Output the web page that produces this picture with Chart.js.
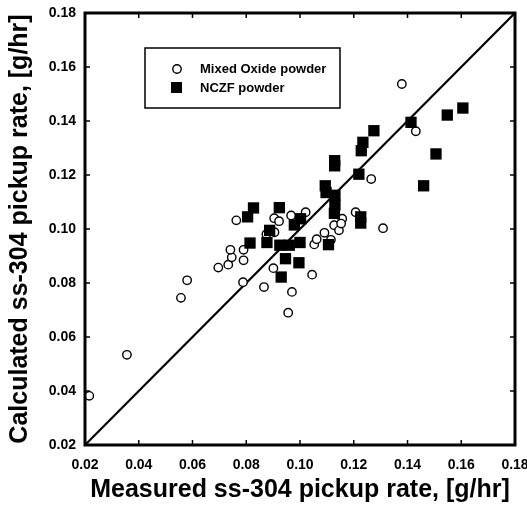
<!DOCTYPE html>
<html>
<head>
<meta charset="utf-8">
<script src="https://cdn.jsdelivr.net/npm/chart.js@4.4.1/dist/chart.umd.min.js"></script>
<style>
  html, body { margin: 0; padding: 0; background: #fff; }
  #wrap { width: 527px; height: 505px; }
</style>
</head>
<body>
<div id="wrap"><canvas id="graphPickup" width="527" height="505"></canvas></div>
<script>
// axis ticks (same on both axes)
const tickValues = [0.02, 0.04, 0.06, 0.08, 0.10, 0.12, 0.14, 0.16, 0.18];

// Mixed Oxide powder (open circles)
const mixedX = [0.0216, 0.0356, 0.0557, 0.0580, 0.0696, 0.0733, 0.0746, 0.0741, 0.0763, 0.0790,
                0.0790, 0.0788, 0.0866, 0.0901, 0.0875, 0.0904, 0.0922, 0.0905, 0.0970, 0.0956,
                0.0967, 0.1021, 0.1045, 0.1053, 0.1062, 0.1091, 0.1115, 0.1127, 0.1145, 0.1157,
                0.1153, 0.1207, 0.1265, 0.1309, 0.1379, 0.1431];
const mixedY = [0.0382, 0.0534, 0.0745, 0.0810, 0.0857, 0.0868, 0.0895, 0.0923, 0.1032, 0.0923,
                0.0884, 0.0803, 0.0785, 0.0855, 0.0981, 0.1040, 0.1029, 0.0988, 0.0767, 0.0690,
                0.1050, 0.1062, 0.0831, 0.0943, 0.0962, 0.0986, 0.0960, 0.1014, 0.0995, 0.1038,
                0.1020, 0.1062, 0.1185, 0.1003, 0.1537, 0.1362];

// NCZF powder (filled squares)
const nczfX = [0.0805, 0.0827, 0.0814, 0.0887, 0.0877, 0.0923, 0.0925, 0.0930, 0.0946, 0.0960,
               0.0979, 0.1002, 0.0996, 0.1000, 0.1094, 0.1097, 0.1129, 0.1129, 0.1130, 0.1130,
               0.1128, 0.1106, 0.1219, 0.1226, 0.1226, 0.1228, 0.1234, 0.1275, 0.1413, 0.1460,
               0.1506, 0.1548, 0.1606];
const nczfY = [0.1045, 0.1078, 0.0948, 0.0995, 0.0950, 0.1079, 0.0940, 0.0822, 0.0890, 0.0940,
               0.1015, 0.1038, 0.0875, 0.0950, 0.1160, 0.1135, 0.1253, 0.1234, 0.1125, 0.1089,
               0.1058, 0.0942, 0.1203, 0.1045, 0.1022, 0.1290, 0.1321, 0.1364, 0.1395, 0.1160,
               0.1278, 0.1422, 0.1448];

// 1:1 line
const lineX = [0.02, 0.18];
const lineY = [0.02, 0.18];

const toPoints = (xs, ys) => xs.map((x, i) => ({ x: x, y: ys[i] }));
const FONT = '"Liberation Sans", Arial, sans-serif';

// kotak plot, tick ke dalam, dan legend
const framePlugin = {
  id: 'frame',
  afterDatasetsDraw(chart) {
    const { ctx, chartArea: a, scales } = chart;
    ctx.save();
    ctx.strokeStyle = '#000';
    ctx.lineWidth = 1.5;
    ctx.beginPath();
    tickValues.forEach(v => {
      const px = scales.x.getPixelForValue(v);
      const py = scales.y.getPixelForValue(v);
      ctx.moveTo(px, a.bottom); ctx.lineTo(px, a.bottom - 5);
      ctx.moveTo(px, a.top); ctx.lineTo(px, a.top + 5);
      ctx.moveTo(a.left, py); ctx.lineTo(a.left + 5, py);
      ctx.moveTo(a.right, py); ctx.lineTo(a.right - 5, py);
    });
    ctx.stroke();
    ctx.lineWidth = 3;
    ctx.strokeRect(a.left, a.top, a.right - a.left, a.bottom - a.top);

    // legend box
    const lx = 145, ly = 48, lw = 195, lh = 60;
    ctx.fillStyle = '#fff';
    ctx.fillRect(lx, ly, lw, lh);
    ctx.lineWidth = 1.5;
    ctx.strokeRect(lx, ly, lw, lh);
    ctx.beginPath();
    ctx.arc(177, 69, 4.2, 0, Math.PI * 2);
    ctx.fillStyle = '#fff';
    ctx.fill();
    ctx.lineWidth = 1.4;
    ctx.stroke();
    ctx.fillStyle = '#000';
    ctx.fillRect(171, 82, 11, 11);
    ctx.font = 'bold 13px ' + FONT;
    ctx.textBaseline = 'middle';
    ctx.fillText('Mixed Oxide powder', 200, 69);
    ctx.fillText('NCZF powder', 200, 88);
    ctx.restore();
  }
};

const ctxPickup = document.getElementById('graphPickup');
const chartPickup = new Chart(ctxPickup, {
  type: 'scatter',
  data: {
    datasets: [
      {
        label: 'NCZF powder',
        data: toPoints(nczfX, nczfY),
        pointStyle: 'rect',
        pointRadius: 8,
        backgroundColor: '#000',
        borderColor: '#000',
        borderWidth: 0,
        order: 0
      },
      {
        label: 'Mixed Oxide powder',
        data: toPoints(mixedX, mixedY),
        pointStyle: 'circle',
        pointRadius: 4.2,
        backgroundColor: '#fff',
        borderColor: '#000',
        borderWidth: 1.4,
        order: 1
      },
      {
        type: 'line',
        label: '1:1',
        data: toPoints(lineX, lineY),
        borderColor: '#000',
        borderWidth: 2.2,
        pointRadius: 0,
        fill: false,
        order: 2
      }
    ]
  },
  plugins: [framePlugin],
  options: {
    responsive: false,
    animation: false,
    layout: { padding: { top: 13, right: 12, left: 0, bottom: 0 } },
    plugins: {
      legend: { display: false },
      tooltip: { enabled: false }
    },
    scales: {
      x: {
        type: 'linear',
        min: 0.02,
        max: 0.18,
        afterBuildTicks: s => { s.ticks = tickValues.map(v => ({ value: v })); },
        afterFit: s => { s.height = 60; s.paddingLeft = 0; s.paddingRight = 0; },
        grid: { display: false, drawTicks: false },
        border: { display: false },
        ticks: {
          color: '#000',
          padding: 12,
          maxRotation: 0,
          font: { family: FONT, size: 14, weight: 'bold' },
          callback: v => v.toFixed(2)
        },
        title: {
          display: true,
          text: 'Measured ss-304 pickup rate, [g/hr]',
          color: '#000',
          padding: { top: 0, bottom: 0 },
          font: { family: FONT, size: 25, weight: 'bold' }
        }
      },
      y: {
        type: 'linear',
        min: 0.02,
        max: 0.18,
        afterBuildTicks: s => { s.ticks = tickValues.map(v => ({ value: v })); },
        afterFit: s => { s.width = 85; s.paddingTop = 0; s.paddingBottom = 0; },
        grid: { display: false, drawTicks: false },
        border: { display: false },
        ticks: {
          color: '#000',
          padding: 9,
          font: { family: FONT, size: 14, weight: 'bold' },
          callback: v => v.toFixed(2)
        },
        title: {
          display: true,
          text: 'Calculated ss-304 pickup rate, [g/hr]',
          color: '#000',
          padding: { top: 5, bottom: 0 },
          font: { family: FONT, size: 25, weight: 'bold' }
        }
      }
    }
  }
});
</script>
</body>
</html>
